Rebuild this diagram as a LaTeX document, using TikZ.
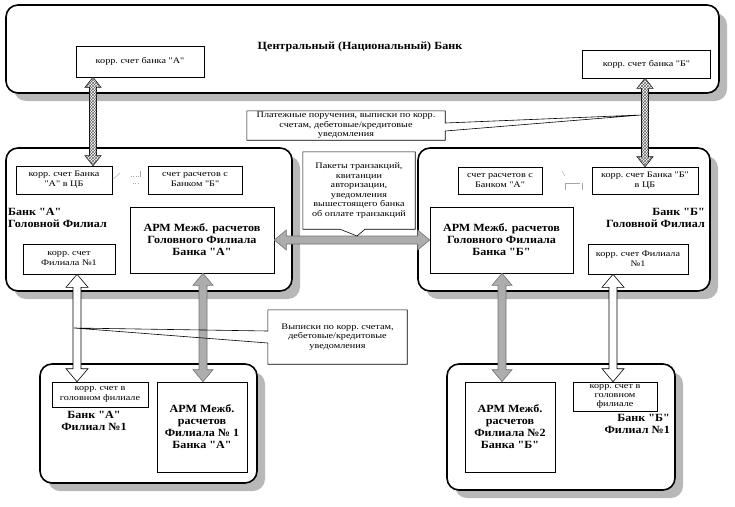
\documentclass[tikz,border=0pt]{standalone}
\usepackage{fontspec}
\setmainfont{Liberation Serif}
\newfontfamily\rmf{Liberation Serif}[FakeStretch=1.2]
\newfontfamily\bff{Liberation Serif}[FakeStretch=1.1]
\usetikzlibrary{shadows,patterns,calc}

% vertical double fat arrow: style, x, top anchor, bottom anchor, shaft half, head half, head length
\newcommand\fatv[7]{\path[#1] let \p1=#3, \p2=#4 in
  (#2pt,\y1) -- (#2pt+#6pt,\y1-#7pt) -- (#2pt+#5pt,\y1-#7pt) -- (#2pt+#5pt,\y2+#7pt) -- (#2pt+#6pt,\y2+#7pt)
  -- (#2pt,\y2) -- (#2pt-#6pt,\y2+#7pt) -- (#2pt-#5pt,\y2+#7pt) -- (#2pt-#5pt,\y1-#7pt) -- (#2pt-#6pt,\y1-#7pt) -- cycle;}
% horizontal double fat arrow: style, y, left anchor, right anchor, shaft half, head half, head length
\newcommand\fath[7]{\path[#1] let \p1=#3, \p2=#4 in
  (\x1,-#2pt) -- (\x1+#7pt,-#2pt+#6pt) -- (\x1+#7pt,-#2pt+#5pt) -- (\x2-#7pt,-#2pt+#5pt) -- (\x2-#7pt,-#2pt+#6pt)
  -- (\x2,-#2pt) -- (\x2-#7pt,-#2pt-#6pt) -- (\x2-#7pt,-#2pt-#5pt) -- (\x1+#7pt,-#2pt-#5pt) -- (\x1+#7pt,-#2pt-#6pt) -- cycle;}

\tikzset{
  bigbox/.style={draw, line width=1.6pt, rounded corners=12pt, fill=white, inner sep=0pt,
    drop shadow={shadow xshift=8pt, shadow yshift=-8pt, opacity=1, fill=black!28}},
  accbox/.style={draw, line width=0.6pt, fill=white, align=center, inner sep=0pt,
    font=\rmf\fontsize{8.5}{10}\selectfont},
  armbox/.style={draw, line width=0.6pt, fill=white, align=center, inner sep=0pt,
    font=\bff\bfseries\fontsize{11}{12}\selectfont},
  boldlbl/.style={inner sep=0pt, font=\bff\bfseries\fontsize{11}{12}\selectfont},
  calltext/.style={fill=white, align=center, inner sep=0pt, font=\rmf\fontsize{8.5}{9.5}\selectfont},
  callline/.style={line width=0.6pt},
  hatcharr/.style={draw, line width=0.6pt, fill=white, postaction={pattern=crosshatch, pattern color=black!60}},
  whitearr/.style={draw, line width=0.6pt, fill=white},
  grayarr/.style={draw=black!55, line width=0.6pt, fill=black!32},
  faint/.style={draw=black!35, line width=0.4pt}
}

\begin{document}
\begin{tikzpicture}[x=1pt, y=-1pt]
\useasboundingbox (0,0) rectangle (735,506);

% ---------- Central bank ----------
\node[bigbox, minimum width=713pt, minimum height=88pt] (cb) at (362.5,49) {};
\node[boldlbl] (cbt) at (360,47) {Центральный (Национальный) Банк};
\node[accbox, minimum width=128pt, minimum height=31pt] (cbA) at (140,61.5) {корр.\ счет банка "А"};
\node[accbox, minimum width=128pt, minimum height=28pt] (cbB) at (646.5,64) {корр.\ счет банка "Б"};

% ---------- Bank A head office ----------
\node[bigbox, minimum width=286pt, minimum height=143pt] (ha) at (149,219.5) {};
\node[accbox, minimum width=96pt, minimum height=28pt] (acc1A) at (64,180) {корр.\ счет Банка\\"А" в ЦБ};
\node[accbox, minimum width=94pt, minimum height=28pt] (acc2A) at (195,180) {счет расчетов с\\Банком "Б"};
\node[boldlbl, anchor=west, align=left] (labA) at (8,218) {Банк "А"\\Головной Филиал};
\node[armbox, minimum width=144pt, minimum height=66pt] (armA) at (202,240) {АРМ Межб. расчетов\\Головного Филиала\\Банка "А"};
\node[accbox, minimum width=92pt, minimum height=30pt] (fil1A) at (69,259) {корр.\ счет\\Филиала №1};

% ---------- Bank B head office ----------
\node[bigbox, minimum width=292pt, minimum height=143pt] (hb) at (564,219.5) {};
\node[accbox, minimum width=84pt, minimum height=27pt] (acc2B) at (500,180.5) {счет расчетов с\\Банком "А"};
\node[accbox, minimum width=106pt, minimum height=27pt] (acc1B) at (645,180.5) {корр.\ счет Банка "Б"\\в ЦБ};
\node[boldlbl, anchor=east, align=right] (labB) at (705,218) {Банк "Б"\\Головной Филиал};
\node[armbox, minimum width=143pt, minimum height=66pt] (armB) at (501.5,240) {АРМ Межб. расчетов\\Головного Филиала\\Банка "Б"};
\node[accbox, minimum width=100pt, minimum height=30pt] (fil1B) at (638,259) {корр.\ счет Филиала\\№1};

% faint marks
\draw[faint] (113,179) -- (120,173);
\draw[faint, dotted] (131,176) -- (140,176);
\draw[faint] (140,171) -- (140,177);
\draw[faint, dotted] (133,183) -- (139,183);
\draw[faint] (562,171) -- (565,176);
\draw[faint] (565,190) -- (565,183) -- (580,183);
\draw[faint] (582,183) -- (582,190);

% ---------- Branch A ----------
\node[bigbox, minimum width=217pt, minimum height=119pt] (fa) at (148.5,423.5) {};
\node[accbox, minimum width=96pt, minimum height=25pt] (accBrA) at (100,394.5) {корр.\ счет в\\головном филиале};
\node[boldlbl, align=center] (labBrA) at (94,421) {Банк "А"\\Филиал №1};
\node[armbox, minimum width=90pt, minimum height=90pt] (armBrA) at (202,427) {АРМ Межб.\\расчетов\\Филиала № 1\\Банка "А"};

% ---------- Branch B ----------
\node[bigbox, minimum width=228pt, minimum height=126pt] (fb) at (561,427) {};
\node[armbox, minimum width=90pt, minimum height=90pt] (armBrB) at (510,427) {АРМ Межб.\\расчетов\\Филиала №2\\Банка "Б"};
\node[accbox, minimum width=84pt, minimum height=29pt, font=\rmf\fontsize{8.5}{8.8}\selectfont] (accBrB) at (615,396.5) {корр.\ счет в\\головном\\филиале};
\node[boldlbl, anchor=east, align=right] (labBrB) at (670,424) {Банк "Б"\\Филиал №1};

% ---------- Arrows ----------
\fatv{hatcharr}{93}{(cbA.south)}{(acc1A.north)}{3.5}{8}{10}
\fatv{hatcharr}{645}{(cbB.south)}{(acc1B.north)}{3.5}{8}{10}
\fatv{whitearr}{77}{(fil1A.south)}{(accBrA.north)}{4}{11}{13}
\fatv{grayarr}{203}{(armA.south)}{(armBrA.north)}{4}{10}{12}
\fatv{grayarr}{502}{(armB.south)}{(armBrB.north)}{4}{10}{12}
\fatv{whitearr}{613}{(fil1B.south)}{(accBrB.north)}{4}{11}{13}
\fath{grayarr}{240}{(armA.east)}{(armB.west)}{4}{10}{12}

% ---------- Callouts ----------
\coordinate (t1) at (641,115);
\coordinate (t2) at (357,236);
\coordinate (t3) at (74,328);

\node[calltext, minimum width=198pt, minimum height=29pt] (c1) at (346,125.5)
  {Платежные поручения, выписки по корр.\\счетам, дебетовые/кредитовые\\уведомления};
\draw[callline] (c1.north west) -- (c1.north east) -- ($(c1.east)+(0,-2.5)$) -- (t1)
  -- ($(c1.east)+(0,5.5)$) -- (c1.south east) -- (c1.south west) -- cycle;

\node[calltext, minimum width=112pt, minimum height=77pt] (c2) at (359,190.5)
  {Пакеты транзакций,\\квитанции\\авторизации,\\уведомления\\вышестоящего банка\\об оплате транзакций};
\draw[callline, fill=white] (c2.north west) -- (c2.north east) -- (c2.south east) -- ($(c2.south)+(6,0)$)
  -- (t2) -- ($(c2.south)+(-19,0)$) -- (c2.south west) -- cycle;
\node[calltext, fill=none] at (c2.center)
  {Пакеты транзакций,\\квитанции\\авторизации,\\уведомления\\вышестоящего банка\\об оплате транзакций};

\node[calltext, minimum width=139pt, minimum height=54pt] (c3) at (337.5,337)
  {Выписки по корр.\ счетам,\\дебетовые/кредитовые\\уведомления};
\draw[callline] (c3.north west) -- (c3.north east) -- (c3.south east) -- (c3.south west)
  -- ($(c3.west)+(0,6)$) -- (t3) -- ($(c3.west)+(0,-6)$) -- cycle;
\end{tikzpicture}
\end{document}
